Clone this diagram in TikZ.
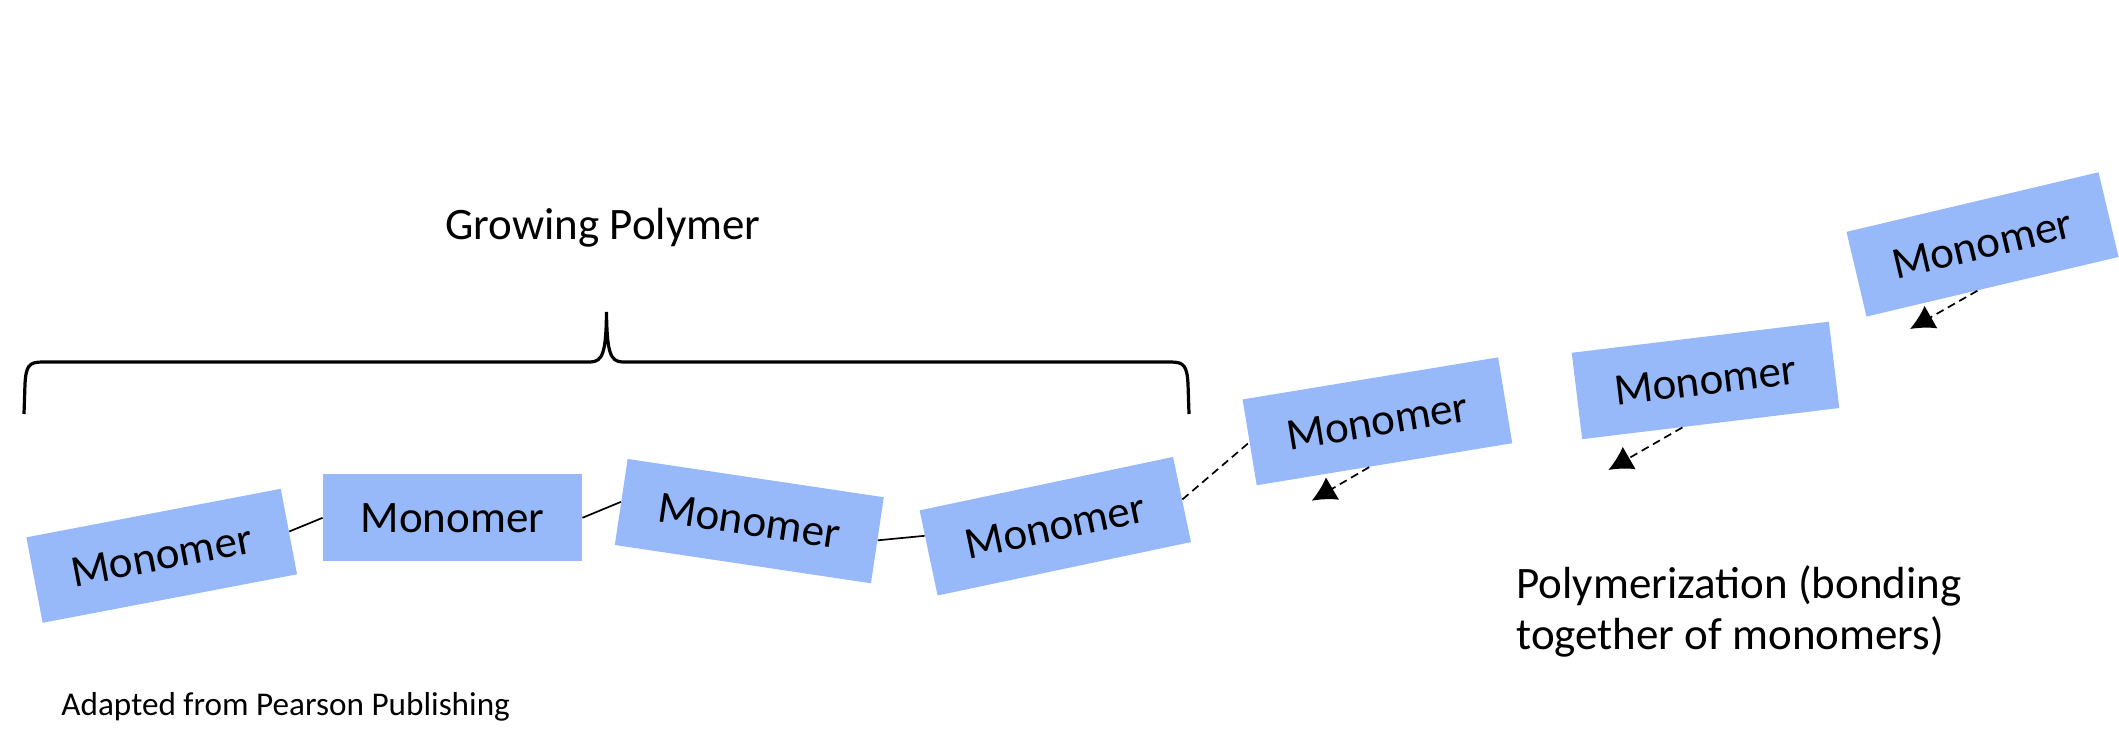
\documentclass[tikz,border=0pt]{standalone}
\usepackage{fontspec}
\setmainfont{Carlito}
\usetikzlibrary{arrows.meta,calc}
\definecolor{monoblue}{RGB}{151,185,250}

\begin{document}
\begin{tikzpicture}[x=0.5pt, y=-0.5pt,
	monomer/.style={fill=monoblue, inner sep=0pt, minimum width=129.5pt,
		minimum height=43.5pt, font=\fontsize{22.5}{27}\selectfont},
	bond/.style={line width=0.85pt},
	feed/.style={line width=0.85pt, dash pattern=on 4pt off 2.5pt,
		-{Latex[length=12pt,width=13pt]}},
	note/.style={inner sep=0pt, font=\fontsize{22.5}{25.5}\selectfont}]
	\useasboundingbox (0,0) rectangle (2119,741);
	% chain
	\node[monomer, rotate=10.8] (b1) at (161.7,555.8) {Monomer};
	\node[monomer] (b2) at (452.5,517.8) {Monomer};
	\node[monomer, rotate=-8.5] (b3) at (749.3,521.1) {Monomer};
	\node[monomer, rotate=11.9] (b4) at (1055.3,526.2) {Monomer};
	% free monomers
	\node[monomer, rotate=9.35] (b5) at (1377.4,421.3) {Monomer};
	\node[monomer, rotate=6.9] (b6) at (1705.5,380.4) {Monomer};
	\node[monomer, rotate=13.3] (b7) at (1982.5,244.4) {Monomer};
	\coordinate (t5) at (1311.7,500.7);
	\coordinate (t6) at (1608.3,470);
	\coordinate (t7) at (1910,329);
	\draw[bond] (b1.east) -- (b2.west);
	\draw[bond] (b2.east) -- (b3.west);
	\draw[bond] (b3.east) -- ($(b4.north west)!0.3!(b4.south west)$);
	\draw[bond, dash pattern=on 4pt off 2.5pt] (b4.east) -- (b5.west);
	\draw[feed] ($(b5.south west)!0.44!(b5.south east)$) -- (t5);
	\draw[feed] ($(b6.south west)!0.39!(b6.south east)$) -- (t6);
	\draw[feed] ($(b7.south west)!0.44!(b7.south east)$) -- (t7);
	% brace over the chain
	\draw[line width=1.6pt] (24,414) -- (25,384)
		.. controls (26,366) and (29,362) .. (42,362) -- (590,362)
		.. controls (603,362) and (606,352) .. (606.5,312)
		.. controls (607,352) and (610,362) .. (623,362) -- (1171,362)
		.. controls (1184,362) and (1187,366) .. (1188,384) -- (1189,414);
	\node[note, anchor=base] (title) at (603,239) {Growing Polymer};
	\node[note, anchor=base west, align=left] (react) at (1516,649)
		{Polymerization (bonding\\together of monomers)};
	\node[anchor=base west, inner sep=0pt, font=\fontsize{16.6}{20}\selectfont]
		(source) at (61,715) {Adapted from Pearson Publishing};
\end{tikzpicture}
\end{document}
